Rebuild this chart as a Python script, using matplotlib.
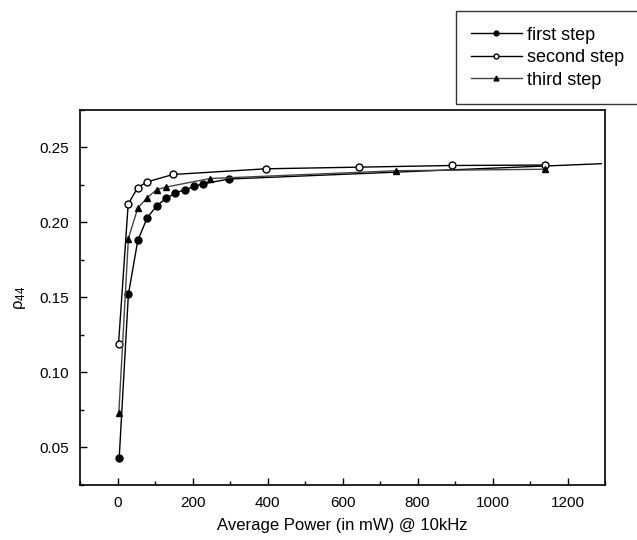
import matplotlib
matplotlib.use("Agg")
import matplotlib.pyplot as plt
from matplotlib.ticker import MultipleLocator

plt.rcParams['font.family'] = ['Liberation Sans', 'DejaVu Sans']
plt.rcParams['mathtext.fontset'] = 'custom'
plt.rcParams['mathtext.rm'] = 'Liberation Sans'
plt.rcParams['mathtext.it'] = 'Liberation Sans:italic'

# ---------- data ----------
first_x = [4.5, 29, 54, 79, 104, 129, 154, 179, 204, 229, 298, 1290]
first_y = [0.043, 0.152, 0.188, 0.203, 0.211, 0.216, 0.2196, 0.2218, 0.224, 0.2258, 0.229, 0.2392]

second_x = [2.7, 28.5, 54, 79, 148, 396, 645, 892, 1140]
second_y = [0.119, 0.2123, 0.2233, 0.2271, 0.232, 0.2358, 0.2369, 0.238, 0.2383]

third_x = [3.6, 29, 54, 79, 104, 129, 246, 743, 1140]
third_y = [0.0733, 0.1893, 0.2096, 0.2165, 0.2218, 0.2236, 0.2293, 0.2345, 0.2355]

fig = plt.figure(figsize=(6.37, 5.40), dpi=100)
ax = fig.add_axes([0.1256, 0.1019, 0.8242, 0.6944])

ax.plot(first_x, first_y, '-', color='black', lw=1.0, marker='o', ms=5,
        mfc='black', mec='black', markevery=list(range(len(first_x) - 1)),
        label='first step')
ax.plot(second_x, second_y, '-', color='black', lw=1.0, marker='o', ms=5,
        mfc='white', mec='black', label='second step')
ax.plot(third_x, third_y, '-', color='#444444', lw=1.0, marker='^', ms=5,
        mfc='black', mec='black', label='third step')

ax.set_xlim(-100, 1300)
ax.set_ylim(0.025, 0.275)
ax.xaxis.set_major_locator(MultipleLocator(200))
ax.xaxis.set_minor_locator(MultipleLocator(100))
ax.yaxis.set_major_locator(MultipleLocator(0.05))
ax.yaxis.set_minor_locator(MultipleLocator(0.025))
ax.yaxis.set_major_formatter(plt.FormatStrFormatter('%.2f'))
ax.tick_params(which='both', direction='in', labelsize=11, width=1.0,
               top=False, right=False, pad=8)
ax.tick_params(which='major', length=5)
ax.tick_params(which='minor', length=3)
for s in ax.spines.values():
    s.set_linewidth(1.2)

ax.set_xlabel('Average Power (in mW) @ 10kHz', fontsize=12, labelpad=6)
ax.set_ylabel(r'ρ$_{\mathregular{44}}$', fontsize=12, labelpad=8)

leg = fig.legend(loc='upper right', bbox_to_anchor=(1.004, 0.979),
                 borderaxespad=0.0,
                 fontsize=13, frameon=True, fancybox=False, edgecolor='black',
                 handlelength=2.8, handletextpad=0.3, labelspacing=0.3,
                 borderpad=0.85, markerscale=0.7)
leg.get_frame().set_linewidth(1.0)

fig.savefig('out.png', dpi=100)
